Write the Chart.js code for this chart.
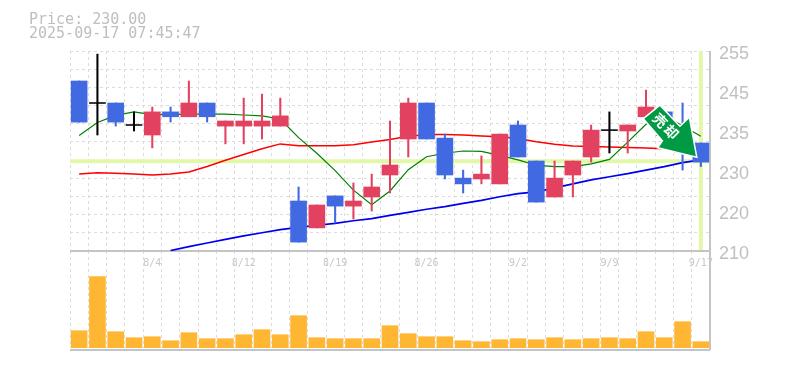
<!DOCTYPE html>
<html><head><meta charset="utf-8">
<script src="https://cdn.jsdelivr.net/npm/chart.js@4/dist/chart.umd.min.js"></script>
<style>
html,body{margin:0;padding:0;background:#fff;width:785px;height:370px;overflow:hidden}
.head{position:absolute;left:29px;font:15px "DejaVu Sans Mono",monospace;color:#bebebe;line-height:15px;white-space:pre}
canvas{position:absolute;left:0}
#wrapV{position:absolute;left:0;top:240px;width:785px;height:120px}
#wrapP{position:absolute;left:0;top:0;width:785px;height:275px}
</style></head><body>
<div id="wrapV"><canvas id="vol"></canvas></div>
<div id="wrapP"><canvas id="price"></canvas></div>
<div class="head" style="top:12px">Price: 230.00</div>
<div class="head" style="top:26px">2025-09-17 07:45:47</div>
<script>
const dates=['7/29','7/30','7/31','8/1','8/4','8/5','8/6','8/7','8/8','8/12','8/13','8/14','8/15','8/18','8/19','8/20','8/21','8/22','8/25','8/26','8/27','8/28','8/29','9/1','9/2','9/3','9/4','9/5','9/8','9/9','9/10','9/11','9/12','9/16','9/17'];
const shownDates=['8/4','8/12','8/19','8/26','9/2','9/9','9/17'];
const kinds=['d','f','d','f','u','d','u','d','u','u','u','u','d','u','d','u','u','u','u','d','d','d','u','u','d','d','u','u','u','f','u','u','d','d','d'];
const bodyTop=[248.25,243.4,243.3,238.45,241.3,241.3,243.3,243.3,239.25,239.25,239.25,240.4,221.25,220.35,222.4,221.25,224.4,229.35,243.3,243.3,235.4,226.4,227.3,236.3,238.35,230.25,226.4,230.25,237.2,237.3,238.35,242.4,241.3,237,234.3];
const bodyBottom=[239,243.2,239,238.25,236.1,240.2,240.2,240.2,238.1,238.1,238.1,238.1,212,215.2,220.1,220.1,222.15,227.1,235.2,235.2,227.1,225.1,226.2,225.1,231.15,221,222.15,227.1,231.15,237.1,237,240.2,236,232.2,230];
const highs=[248.25,254.3,243.3,241.3,242.4,242.4,248.25,243.3,239.25,244.4,245.3,244.4,224.4,220.35,222.4,225.3,227.3,239.25,244.4,243.3,236.3,228.2,231.4,236.3,239.25,230.25,230.25,230.25,238.35,241.3,238.35,246.2,241.3,243.3,234.3];
const lows=[239,236.1,238.1,237,233.2,239,240.2,239,234.1,234.1,235.2,238.1,212,215.2,216.3,217.2,219,223.05,231.15,235.2,226.2,223.05,225.1,225.1,231.15,221,222.15,222.15,230,232.05,232.05,240.2,236,228.2,229];
const greenMA=[236,238.9,240.5,241.3,240.7,240.7,240.8,240.8,240.8,240.6,240.4,239.7,235.5,232,228.1,223.7,220.4,223.5,228.3,231.2,232,232.5,232.4,231.5,230.5,229.3,229,229,229.6,230.6,234.5,238.5,240.5,238.2,235.8];
const redMA=[227.3,227.6,227.5,227.3,227.1,227.3,227.8,229,230.4,231.7,233,234.1,233.7,233.7,233.7,233.9,234.5,235.1,235.8,236.2,236.2,236.1,235.9,235.7,235.3,234.6,234,233.6,233.5,233.4,233.3,233.2,233,232.8,232.7];
const blueMA=[null,null,null,null,null,210.1,211,211.8,212.6,213.4,214.1,214.8,215.3,215.8,216.2,216.8,217.3,218,218.7,219.4,220,220.7,221.4,222.2,222.9,223.3,224.2,225.1,226,226.7,227.4,228.2,229,229.9,230.5];
const volumes=[17.3,71.3,16.3,10.3,11.3,7.3,15.3,9.3,9.3,13.3,18.3,13.3,32.3,10.3,9.3,9.3,9.3,22.3,14.3,11.3,11.3,7.3,6.3,8.3,9.3,8.3,10.3,8.3,9.3,10.3,9.3,16.3,10.3,26.3,6.3];
const priceLabels=['255','245','235','230','220','210'];
const priceLabelSpots=[254.3,245.3,236.3,227.3,218.3,209.3];
const currentPrice=230.2;
const stamp='売却';

const PAL={u:'#e2425f',d:'#4169e1',f:'#000000'};
const colors=kinds.map(k=>PAL[k]);
const bodyData=dates.map((d,i)=>[bodyBottom[i],bodyTop[i]]);
const wickData=dates.map((d,i)=>[lows[i],highs[i]]);
Chart.defaults.animation=false;
const PL=70;
const gridC='#dcdcdc';
const crosshair={id:'crosshair',beforeDatasetsDraw(c){
  const g=c.ctx,a=c.chartArea,y=c.scales.y.getPixelForValue(currentPrice),x=c.scales.x.getPixelForValue(dates.length-1);
  g.save();g.fillStyle='#e3f7a9';
  g.fillRect(a.left,y-2,a.width,4);
  g.fillRect(x-2,a.top,4,a.height);
  g.strokeStyle='#c4c4c4';g.lineWidth=2;g.beginPath();
  g.moveTo(a.left,a.bottom);g.lineTo(a.right,a.bottom);g.moveTo(a.right,a.top);g.lineTo(a.right,a.bottom);g.stroke();g.restore();
}};
const arrow={id:'arrow',afterDatasetsDraw(c){
  const g=c.ctx,tx=c.scales.x.getPixelForValue(dates.length-1)-5,ty=c.scales.y.getPixelForValue(currentPrice)-5;
  const pts=[[-36,-50],[-51.5,-37.5],[-32.5,-15.5],[-37,-9],[0,0],[-7,-37.5],[-16,-29]];
  g.save();g.translate(tx,ty);g.beginPath();
  pts.forEach((p,i)=>i?g.lineTo(p[0],p[1]):g.moveTo(p[0],p[1]));g.closePath();
  g.lineJoin='miter';g.lineWidth=3;g.strokeStyle='#fff';g.stroke();g.fillStyle='#009944';g.fill();
  g.translate(-30,-30);g.rotate(Math.PI/4);g.fillStyle='#fff';g.textAlign='center';g.textBaseline='middle';
  g.font='bold 14px "Noto Sans CJK JP"';
  g.fillText(stamp[0],-8,0);g.fillText(stamp[1],8,0);
  g.restore();
}};
new Chart(document.getElementById('price'),{
  data:{labels:dates,datasets:[
    {type:'bar',data:wickData,backgroundColor:colors,barThickness:1.4,grouped:false,order:2,yAxisID:'y'},
    {type:'bar',data:bodyData,backgroundColor:colors,barThickness:16,grouped:false,order:1,yAxisID:'y'},
    {type:'line',data:greenMA,borderColor:'#008000',borderWidth:1.2,pointRadius:0,tension:0,order:3,yAxisID:'y'},
    {type:'line',data:redMA,borderColor:'#ff0000',borderWidth:1.5,pointRadius:0,tension:0,order:4,yAxisID:'y'},
    {type:'line',data:blueMA,borderColor:'#0000ee',borderWidth:1.7,pointRadius:0,tension:0,order:5,yAxisID:'y'}
  ]},
  options:{responsive:true,maintainAspectRatio:false,animation:false,
    layout:{padding:{left:PL,top:51,right:0,bottom:0}},
    plugins:{legend:{display:false},tooltip:{enabled:false}},
    scales:{
      x:{type:'category',offset:true,
        grid:{color:gridC,offset:true,drawTicks:false,lineWidth:1},
        border:{display:false,dash:[3,3]},
        afterFit(s){s.height=24;},
        ticks:{autoSkip:false,maxRotation:0,padding:6,color:'#c8c8c8',font:{family:'"DejaVu Sans Mono"',size:10},
          callback(v){const l=this.getLabelForValue(v);return shownDates.includes(l)?l:'';}}
      },
      y:{position:'left',min:210,max:255,
        afterBuildTicks(s){const n=11,t=[];for(let k=0;k<=n;k++)t.push({value:210+k*45/n});s.ticks=t;},
        grid:{color:gridC,drawTicks:false},border:{display:false,dash:[3,3]},
        ticks:{display:false},afterFit(s){s.width=0;}
      },
      yLabels:{position:'right',min:210,max:255,
        afterBuildTicks(s){s.ticks=priceLabelSpots.map(value=>({value}));},
        grid:{display:false},border:{display:false},
        afterFit(s){s.width=75;},
        ticks:{autoSkip:false,padding:1,color:'#c0c0c0',font:{family:'"Liberation Sans"',size:18},
          callback(v,i){return priceLabels[i];}}
      }
    }
  },
  plugins:[crosshair,arrow]
});
const volFrame={id:'volFrame',beforeDatasetsDraw(c){
  const g=c.ctx,a=c.chartArea;g.save();g.strokeStyle='#c4c4c4';g.lineWidth=2;g.beginPath();
  g.moveTo(a.left,a.bottom+2);g.lineTo(a.right,a.bottom+2);g.moveTo(a.right,a.top);g.lineTo(a.right,a.bottom+2);g.stroke();g.restore();
}};
new Chart(document.getElementById('vol'),{
  type:'bar',
  data:{labels:dates,datasets:[{data:volumes,backgroundColor:'#ffb733',barThickness:16}]},
  options:{responsive:true,maintainAspectRatio:false,animation:false,
    layout:{padding:{left:PL,top:11,right:75,bottom:12}},
    plugins:{legend:{display:false},tooltip:{enabled:false}},
    scales:{
      x:{offset:true,grid:{color:gridC,offset:true,drawTicks:false},border:{display:false,dash:[3,3]},ticks:{display:false},afterFit(s){s.height=0;}},
      y:{min:0,max:97,grid:{display:false},border:{display:false},ticks:{display:false},afterFit(s){s.width=0;}}
    }
  },
  plugins:[volFrame]
});
</script>
</body></html>
